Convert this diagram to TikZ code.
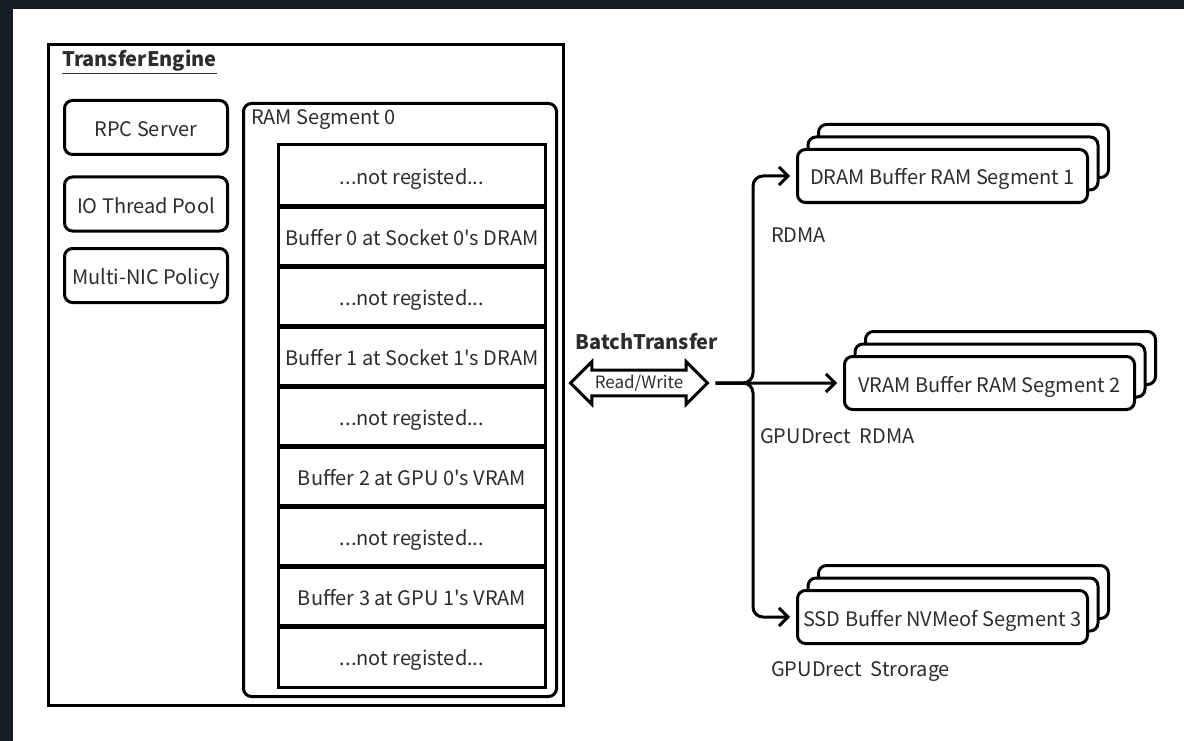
\documentclass[tikz,border=0pt]{standalone}
\usepackage{fontspec}
\setmainfont{Noto Sans CJK SC}
\usepackage{xcolor}
\definecolor{bgdark}{RGB}{22, 29, 39}
\definecolor{ink}{RGB}{45, 45, 45}
\usetikzlibrary{positioning, shapes.arrows, arrows.meta}
\newcommand{\txt}{\fontsize{20}{24}\selectfont}
\newcommand{\smalltxt}{\fontsize{17}{20}\selectfont}
\tikzset{
	box/.style={draw, line width=3pt, rounded corners=8pt, text=ink, font=\txt, text height=18pt, text depth=0pt, minimum width=163pt, minimum height=54pt, inner sep=0pt},
	slot/.style={draw, line width=3pt, text=ink, font=\txt, text height=18pt, text depth=0pt, minimum width=267pt, minimum height=62pt, inner sep=0pt},
	seg/.style={draw, fill=white, line width=3pt, rounded corners=8pt, text=ink, font=\txt, text height=18pt, text depth=0pt, minimum width=290pt, minimum height=53pt, inner sep=0pt},
	lbl/.style={text=ink, font=\txt, anchor=west, inner sep=0pt},
	conn/.style={line width=3pt, rounded corners=10pt, shorten <=6pt, shorten >=6pt, -{Straight Barb[length=9pt, width=18pt, line width=3pt]}}
}

\begin{document}
\begin{tikzpicture}[x=1pt, y=-1pt]
	\fill[bgdark] (0,0) rectangle (1184,741);
	\fill[white] (13,9) rectangle (1184,741);
	\useasboundingbox (0,0) rectangle (1184,741);
	% transfer engine
	\draw[line width=3pt] (48.5,44.5) rectangle (563.5,705.5);
	\node[lbl, font=\txt\bfseries] (title) at (62,62) {\underline{TransferEngine}};
	\node[box] (rpc) at (146,127.5) {RPC Server};
	\node[box] (pool) at (146,204) {IO Thread Pool};
	\node[box] (nic) at (146,275.5) {Multi-NIC Policy};
	% local segment
	\draw[line width=3pt, rounded corners=8pt] (243.5,103.5) rectangle (556.5,696.5);
	\node[lbl] (segname) at (251,120) {RAM Segment 0};
	\node[slot] (s0) at (412,176) {...not registed...};
	\node[slot] (s1) at (412,236) {Buffer 0 at Socket 0\textquotesingle s DRAM};
	\node[slot] (s2) at (412,296) {...not registed...};
	\node[slot] (s3) at (412,356) {Buffer 1 at Socket 1\textquotesingle s DRAM};
	\node[slot] (s4) at (412,416) {...not registed...};
	\node[slot] (s5) at (412,476) {Buffer 2 at GPU 0\textquotesingle s VRAM};
	\node[slot] (s6) at (412,536) {...not registed...};
	\node[slot] (s7) at (412,596) {Buffer 3 at GPU 1\textquotesingle s VRAM};
	\node[slot] (s8) at (412,656) {...not registed...};
	% batch transfer
	\node[font=\txt\bfseries, text=ink] (bt) at (647,342) {BatchTransfer};
	\node[double arrow, draw, line width=3pt, text=ink, font=\smalltxt, minimum height=137pt, inner xsep=0pt, inner ysep=3pt, double arrow head extend=8.5pt] (rw) at (639,383) {Read/Write};
	% remote segments
	\node[seg] at (963.5,151) {};
	\node[seg] at (953,163.5) {};
	\node[seg] (dram) at (942.5,176) {DRAM Buffer RAM Segment 1};
	\node[seg] at (1010.5,358) {};
	\node[seg] at (1000,370.5) {};
	\node[seg] (vram) at (989.5,383) {VRAM Buffer RAM Segment 2};
	\node[seg] at (963.5,592) {};
	\node[seg] at (953,604.5) {};
	\node[seg] (ssd) at (942.5,617) {SSD Buffer NVMeof Segment 3};
	\node[lbl] (rdma) at (771,235) {RDMA};
	\node[lbl] (gdr) at (760,436) {GPUDrect~~RDMA};
	\node[lbl] (gds) at (771,672) {GPUDrect~~Strorage};
	\coordinate (jn) at (753,383);
	\draw[conn] (rw.east) -| (jn |- dram.west) -- (dram.west);
	\draw[conn] (rw.east) -- (vram.west);
	\draw[conn] (rw.east) -| (jn |- ssd.west) -- (ssd.west);
\end{tikzpicture}
\end{document}
